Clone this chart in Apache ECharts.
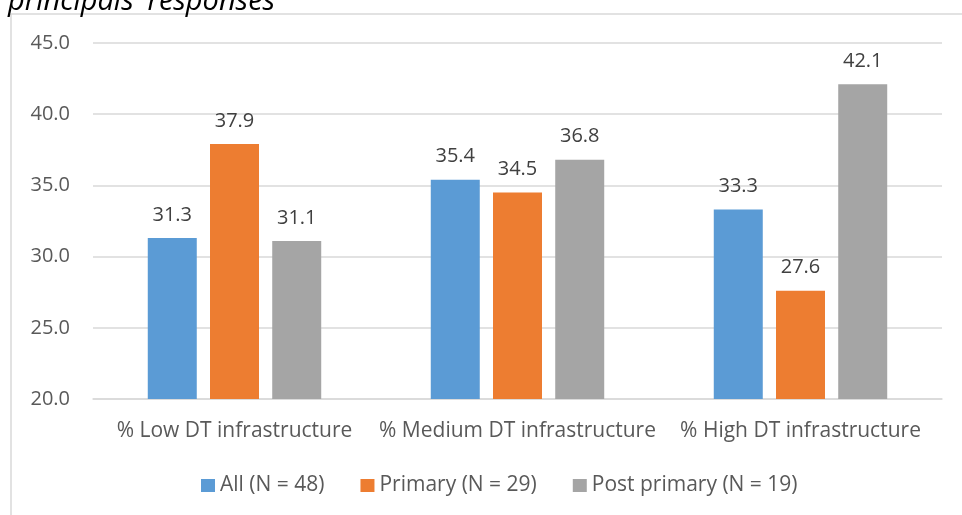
<!DOCTYPE html>
<html>
<head>
<meta charset="utf-8">
<script src="https://cdn.jsdelivr.net/npm/echarts@6/dist/echarts.min.js"></script>
<style>
  html, body { margin: 0; padding: 0; background: #fff; }
  #chart { width: 962px; height: 515px; }
</style>
</head>
<body>
<div id="chart"></div>
<script>
// Categories and series values
const categories = ['% Low DT infrastructure', '% Medium DT infrastructure', '% High DT infrastructure'];
const seriesNames = ['All (N = 48)', 'Primary (N = 29)', 'Post primary (N = 19)'];
const allValues = [31.3, 35.4, 33.3];
const primaryValues = [37.9, 34.5, 27.6];
const postPrimaryValues = [31.1, 36.8, 42.1];
const yTicks = { min: 20, max: 45, interval: 5 };
const titleText = "principals' responses";

const colors = ['#5B9BD5', '#ED7D31', '#A5A5A5'];
const FONT = 'Open Sans';

const chart = echarts.init(document.getElementById('chart'), null, { renderer: 'canvas' });

function barSeries(name, data, color) {
  return {
    name: name,
    type: 'bar',
    data: data,
    barWidth: 49,
    barGap: '27%',
    itemStyle: { color: color },
    label: {
      show: true,
      position: 'top',
      distance: 13,
      color: '#404040',
      fontFamily: FONT,
      fontSize: 20,
      formatter: p => p.value.toFixed(1)
    }
  };
}

chart.setOption({
  animation: false,
  textStyle: { fontFamily: FONT },
  graphic: [
    { type: 'line', shape: { x1: 11, y1: 14, x2: 962, y2: 14 }, style: { stroke: '#d9d9d9', lineWidth: 1.5 } },
    { type: 'line', shape: { x1: 11, y1: 14, x2: 11, y2: 515 }, style: { stroke: '#d9d9d9', lineWidth: 1.5 } },
    { type: 'text', left: 8, top: -13, style: { text: titleText, font: 'italic 29px "' + FONT + '"', fill: '#000' } }
  ],
  legend: {
    bottom: 14,
    left: 196,
    itemWidth: 14,
    itemHeight: 13,
    itemGap: 36,
    icon: 'rect',
    textStyle: { color: '#595959', fontSize: 21, fontFamily: FONT },
    data: seriesNames
  },
  grid: { left: 93, right: 20, top: 43, bottom: 116 },
  xAxis: {
    type: 'category',
    data: categories,
    axisTick: { show: false },
    axisLine: { lineStyle: { color: '#d9d9d9', width: 1.5 } },
    axisLabel: { color: '#595959', fontSize: 21, fontFamily: FONT, margin: 22, interval: 0 }
  },
  yAxis: {
    type: 'value',
    min: yTicks.min,
    max: yTicks.max,
    interval: yTicks.interval,
    axisLine: { show: false },
    axisTick: { show: false },
    splitLine: { lineStyle: { color: '#d9d9d9', width: 1.5 } },
    axisLabel: { color: '#595959', fontSize: 20, fontFamily: FONT, margin: 23, formatter: v => v.toFixed(1) }
  },
  series: [
    barSeries(seriesNames[0], allValues, colors[0]),
    barSeries(seriesNames[1], primaryValues, colors[1]),
    barSeries(seriesNames[2], postPrimaryValues, colors[2])
  ]
});
</script>
</body>
</html>
